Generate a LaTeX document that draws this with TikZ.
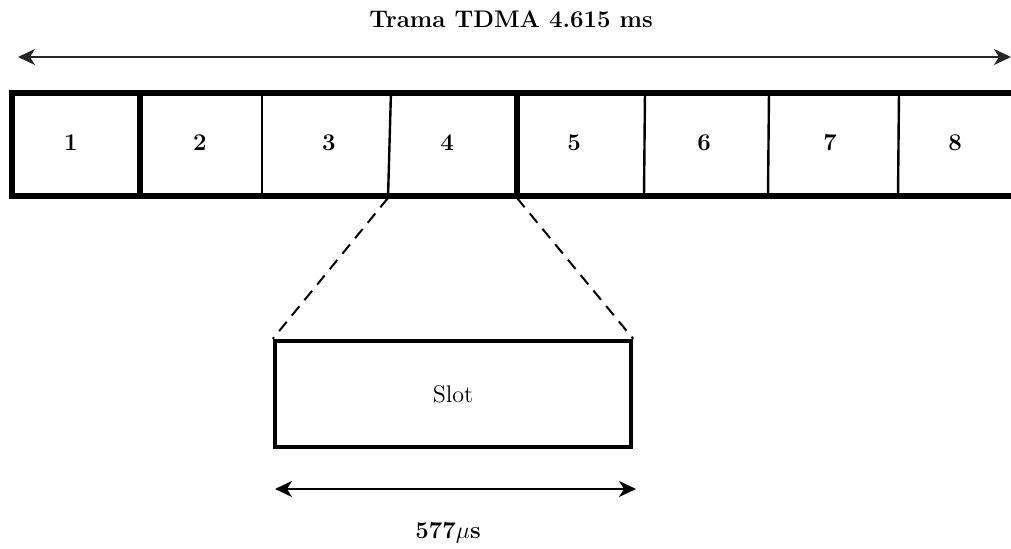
\documentclass[tikz,border=0pt]{standalone}
\usetikzlibrary{arrows.meta}
\begin{document}
\begin{tikzpicture}[x=0.5pt,y=-0.5pt,
  lbl/.style={font=\fontsize{12}{14}\selectfont\bfseries, inner sep=0pt},
  frameedge/.style={line width=2.6pt},
  thickdiv/.style={line width=2.6pt},
  thindiv/.style={line width=1.2pt},
  zoomline/.style={line width=1pt, dash pattern=on 6pt off 4pt},
  dimarrow/.style={line width=0.9pt, {Stealth[length=8.5pt,width=8pt,inset=2.5pt]}-{Stealth[length=8.5pt,width=8pt,inset=2.5pt]}},
  slotbox/.style={draw, line width=2.2pt, minimum width=178pt, minimum height=53pt,
    font=\fontsize{12}{14}\selectfont, inner sep=0pt}]
\useasboundingbox (0,0) rectangle (1011,549);

% frame duration
\node[lbl] (title) at (511,19) {Trama TDMA 4.615 ms};
\coordinate (fl) at (18,57);
\coordinate (fr) at (1011,57);
\draw[dimarrow, black!85] (fl) -- (fr);

% TDMA frame outline (continues past the right edge)
\draw[frameedge] (1011,93) -- (12,93) -- (12,196) -- (1011,196);

% slot dividers
\coordinate (b1t) at (140,93);  \coordinate (b1b) at (140,196);
\coordinate (b2t) at (262,91);  \coordinate (b2b) at (262,196);
\coordinate (b3t) at (391,91);  \coordinate (b3b) at (388,198);
\coordinate (b4t) at (517,93);  \coordinate (b4b) at (517,198);
\coordinate (b5t) at (645,91);  \coordinate (b5b) at (644,196);
\coordinate (b6t) at (769,91);  \coordinate (b6b) at (768,196);
\coordinate (b7t) at (899,91);  \coordinate (b7b) at (898,196);
\draw[thickdiv] (b1t) -- (b1b);
\draw[thindiv] (b2t) -- (b2b);
\draw[thindiv] (b3t) -- (b3b);
\draw[thickdiv] (b4t) -- (b4b);
\draw[thindiv] (b5t) -- (b5b);
\draw[thindiv] (b6t) -- (b6b);
\draw[thindiv] (b7t) -- (b7b);

% slot numbers
\node[lbl] (s1) at (71,143) {1};
\node[lbl] (s2) at (200,143) {2};
\node[lbl] (s3) at (329,143) {3};
\node[lbl] (s4) at (447,143) {4};
\node[lbl] (s5) at (574,143) {5};
\node[lbl] (s6) at (704,143) {6};
\node[lbl] (s7) at (830,143) {7};
\node[lbl] (s8) at (955,143) {8};

% expanded slot
\node[slotbox] (slot) at (453,394) {Slot};
\draw[zoomline] (b3b) -- (slot.north west);
\draw[zoomline] (b4b) -- (slot.north east);

% slot duration
\coordinate (sl) at (275,489);
\coordinate (sr) at (636,489);
\draw[dimarrow, line width=1pt] (sl) -- (sr);
\node[lbl] (dur) at (448,533) {577$\mu$s};
\end{tikzpicture}
\end{document}
